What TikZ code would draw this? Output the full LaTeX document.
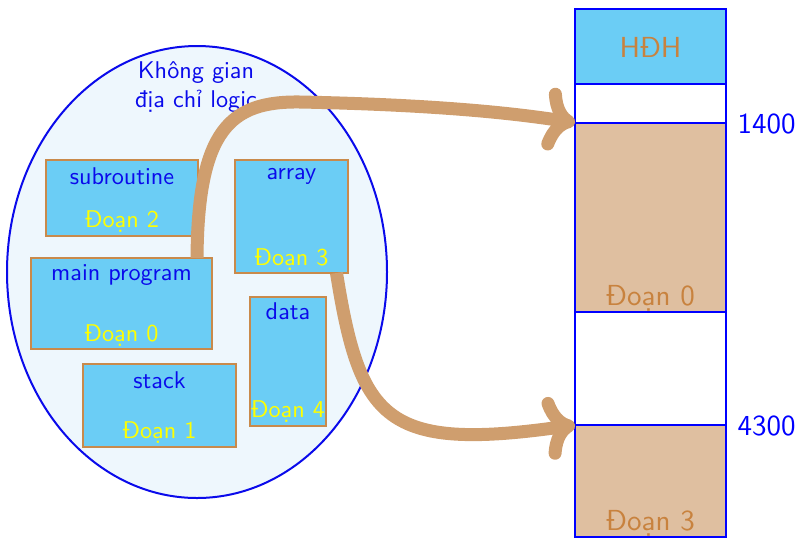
\documentclass[tikz,border=0pt]{standalone}
\usetikzlibrary{arrows.meta}
\definecolor{ellfill}{RGB}{238,247,253}
\definecolor{ellborder}{RGB}{10,10,235}
\definecolor{segfill}{RGB}{107,205,245}
\definecolor{segborder}{RGB}{201,138,75}
\definecolor{memfill}{RGB}{223,191,160}
\definecolor{memtext}{RGB}{200,130,62}
\definecolor{arrowc}{RGB}{207,158,110}
\definecolor{lblue}{RGB}{10,10,235}
\definecolor{lyellow}{RGB}{255,255,0}
\begin{document}
\begin{tikzpicture}[x=1pt,y=-1pt,
  font=\sffamily\fontsize{10pt}{12pt}\selectfont,
  seg/.style={draw=segborder, fill=segfill, line width=2pt, inner sep=0pt, outer sep=0pt},
  segname/.style={text=lblue, anchor=base, inner sep=0pt, scale=2.42},
  segnum/.style={text=lyellow, anchor=base, inner sep=0pt, scale=2.42},
  mem/.style={draw=blue, line width=2pt, inner sep=0pt, outer sep=0pt, minimum width=151pt},
  memlabel/.style={text=memtext, anchor=base, inner sep=0pt, scale=2.9},
  addr/.style={text=blue, anchor=base west, inner sep=0pt, scale=2.9},
  map/.style={draw=arrowc, line width=13pt, line cap=butt, -{Computer Modern Rightarrow}}
]
\useasboundingbox (0,0) rectangle (797,539);

% logical address space
\draw[fill=ellfill, draw=ellborder, line width=2pt] (197,272) ellipse [x radius=190pt, y radius=226pt];
\node[segname] (t1) at (196,78) {Không gian};
\node[segname] (t2) at (196,107) {địa chỉ logic};

% segments
\node[seg, minimum width=152pt, minimum height=76pt] (sub) at (122,198) {};
\node[segname] (subn) at (122,184) {subroutine};
\node[segnum] (subd) at (122,227) {Đoạn 2};

\node[seg, minimum width=113pt, minimum height=113pt] (arr) at (291.5,216.5) {};
\node[segname] (arrn) at (291.5,179) {array};
\node[segnum] (arrd) at (291.5,265) {Đoạn 3};

\node[seg, minimum width=181pt, minimum height=91pt] (mp) at (121.5,303.5) {};
\node[segname] (mpn) at (121.5,280) {main program};
\node[segnum] (mpd) at (121.5,341) {Đoạn 0};

\node[seg, minimum width=76pt, minimum height=129pt] (dat) at (288,361.5) {};
\node[segname] (datn) at (288,319) {data};
\node[segnum] (datd) at (288,417) {Đoạn 4};

\node[seg, minimum width=153pt, minimum height=83pt] (stk) at (159.5,405.5) {};
\node[segname] (stkn) at (159.5,388) {stack};
\node[segnum] (stkd) at (159.5,438) {Đoạn 1};

% physical memory
\node[mem, fill=segfill, minimum height=74.7pt] (hdh) at (650.5,46.65) {};
\node[mem, fill=white, minimum height=38.7pt] (fr1) at (650.5,103.35) {};
\node[mem, fill=memfill, minimum height=189pt] (d0) at (650.5,217.2) {};
\node[mem, fill=white, minimum height=113.3pt] (fr2) at (650.5,368.35) {};
\node[mem, fill=memfill, minimum height=112.3pt] (d3) at (650.5,481.15) {};

\node[memlabel] (hdhl) at (650.5,57) {HĐH};
\node[memlabel] (d0l) at (650.5,305) {Đoạn 0};
\node[memlabel] (d3l) at (650.5,530) {Đoạn 3};
\node[addr] (a1) at (737,133) {1400};
\node[addr] (a2) at (737,435) {4300};

% mapping arrows
\draw[map] ([xshift=75.5pt]mp.north) .. controls (198,130) and (230,101) .. (300,102)
  .. controls (450,105) and (525,115) .. (d0.north west);
\draw[map] ([xshift=45pt]arr.south) .. controls (360,420) and (385,452) .. (d3.north west);
\end{tikzpicture}
\end{document}
